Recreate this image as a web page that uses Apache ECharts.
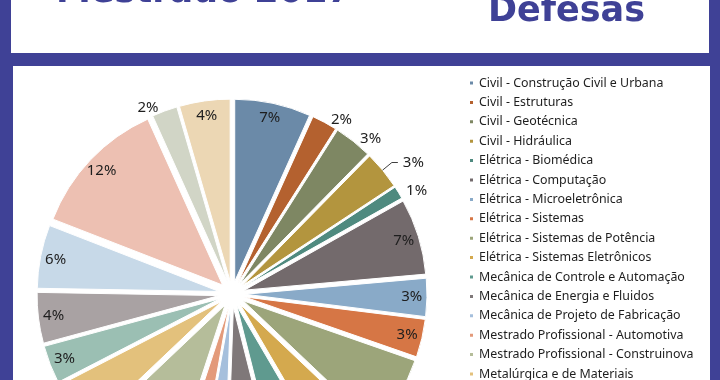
<!DOCTYPE html>
<html><head><meta charset="utf-8">
<script src="https://cdn.jsdelivr.net/npm/echarts@6/dist/echarts.min.js"></script>
<style>html,body{margin:0;padding:0;background:#3f4196}#c{width:720px;height:380px}</style>
</head><body><div id="c"></div>
<script>
const categories = [
  'Civil - Construção Civil e Urbana',
  'Civil - Estruturas',
  'Civil - Geotécnica',
  'Civil - Hidráulica',
  'Elétrica - Biomédica',
  'Elétrica - Computação',
  'Elétrica - Microeletrônica',
  'Elétrica - Sistemas',
  'Elétrica - Sistemas de Potência',
  'Elétrica - Sistemas Eletrônicos',
  'Mecânica de Controle e Automação',
  'Mecânica de Energia e Fluidos',
  'Mecânica de Projeto de Fabricação',
  'Mestrado Profissional - Automotiva',
  'Mestrado Profissional - Construinova',
  'Metalúrgica e de Materiais',
  'Minas',
  'Naval e Oceânica',
  'Produção',
  'Química',
  'Sistemas Logísticos',
  'Transportes'
];
const values = [6, 2, 3, 3, 1, 6, 3, 3, 6, 4, 4, 4, 2, 2, 7, 4, 3, 4, 5, 11, 2, 4];
const titleLeft = 'Mestrado 2017';
const titleRight = 'Defesas';

const palette = [
  '#6b8aa8', '#b4612f', '#7e8763', '#b3953e', '#4f8a7f', '#736a6c',
  '#89aac8', '#d67645', '#9ca57a', '#d4a94e', '#5f9a8f', '#7f7879',
  '#a5bfdc', '#e39a7a', '#b5bd9a', '#e3c17c', '#9bbfb3', '#a9a2a3',
  '#c7d9e8', '#edc0b2', '#d1d5c6', '#ecd7b4'
];
const outsideLabelNames = ['Civil - Estruturas', 'Civil - Geotécnica', 'Civil - Hidráulica', 'Elétrica - Biomédica', 'Sistemas Logísticos'];
const leaderLineNames = ['Civil - Hidráulica'];

const total = values.reduce((a, b) => a + b, 0);
const BLUE = '#3f4196';
const FONT = 'Noto Sans';
const CX = 232, CY = 294, R = 182, OFF = 13;

const chart = echarts.init(document.getElementById('c'), null, {renderer: 'canvas'});

const sliceData = categories.map((n, i) => ({
  name: n, value: values[i], selected: true,
  itemStyle: {color: palette[i]}
}));

const labelData = categories.map((n, i) => {
  const outside = outsideLabelNames.includes(n);
  const line = leaderLineNames.includes(n);
  return {
    name: n, value: values[i], selected: true,
    label: {position: outside ? 'outside' : 'inside'},
    labelLine: outside ? (line ? {show: true, length: 12, length2: 6} : {show: false, length: 3, length2: 0}) : {show: false}
  };
});

chart.setOption({
  animation: false,
  backgroundColor: BLUE,
  graphic: [
    {type: 'rect', z: 0, shape: {x: 11, y: 0, width: 698, height: 53}, style: {fill: '#ffffff'}},
    {type: 'rect', z: 0, shape: {x: 13, y: 66, width: 697, height: 330}, style: {fill: '#ffffff'}},
    {type: 'text', z: 1, x: 56, y: -25, style: {text: titleLeft, fill: BLUE, font: 'bold 35px "DejaVu Sans"', verticalAlign: 'top'}},
    {type: 'text', z: 1, x: 488, y: -6, style: {text: titleRight, fill: BLUE, font: 'bold 35px "DejaVu Sans"', verticalAlign: 'top'}}
  ],
  legend: {
    orient: 'vertical',
    left: 468, top: 76, height: 700,
    padding: 0,
    itemWidth: 5, itemHeight: 5, itemGap: 5.4,
    icon: 'rect',
    selectedMode: false,
    textStyle: {fontFamily: FONT, fontSize: 12.4, color: '#1e1e1e', lineHeight: 14},
    data: categories.map((n, i) => ({name: n, itemStyle: {color: palette[i]}}))
  },
  series: [
    {
      type: 'pie', z: 2,
      center: [CX, CY], radius: [0, R],
      startAngle: 90, clockwise: true,
      selectedMode: 'multiple', selectedOffset: OFF,
      silent: true,
      itemStyle: {borderColor: '#ffffff', borderWidth: 1},
      label: {show: false}, labelLine: {show: false},
      emphasis: {disabled: true},
      data: sliceData
    },
    {
      type: 'pie', z: 3,
      center: [CX, CY], radius: [R * 0.8, R],
      startAngle: 90, clockwise: true,
      selectedMode: 'multiple', selectedOffset: OFF,
      silent: true,
      itemStyle: {color: 'rgba(0,0,0,0)', borderWidth: 0},
      label: {
        show: true, fontFamily: FONT, fontSize: 15, color: '#1e1e1e',
        formatter: p => Math.round(p.value / total * 100) + '%'
      },
      labelLine: {lineStyle: {color: '#404040', width: 1}},
      emphasis: {disabled: true},
      data: labelData
    }
  ]
});
</script>
</body></html>
